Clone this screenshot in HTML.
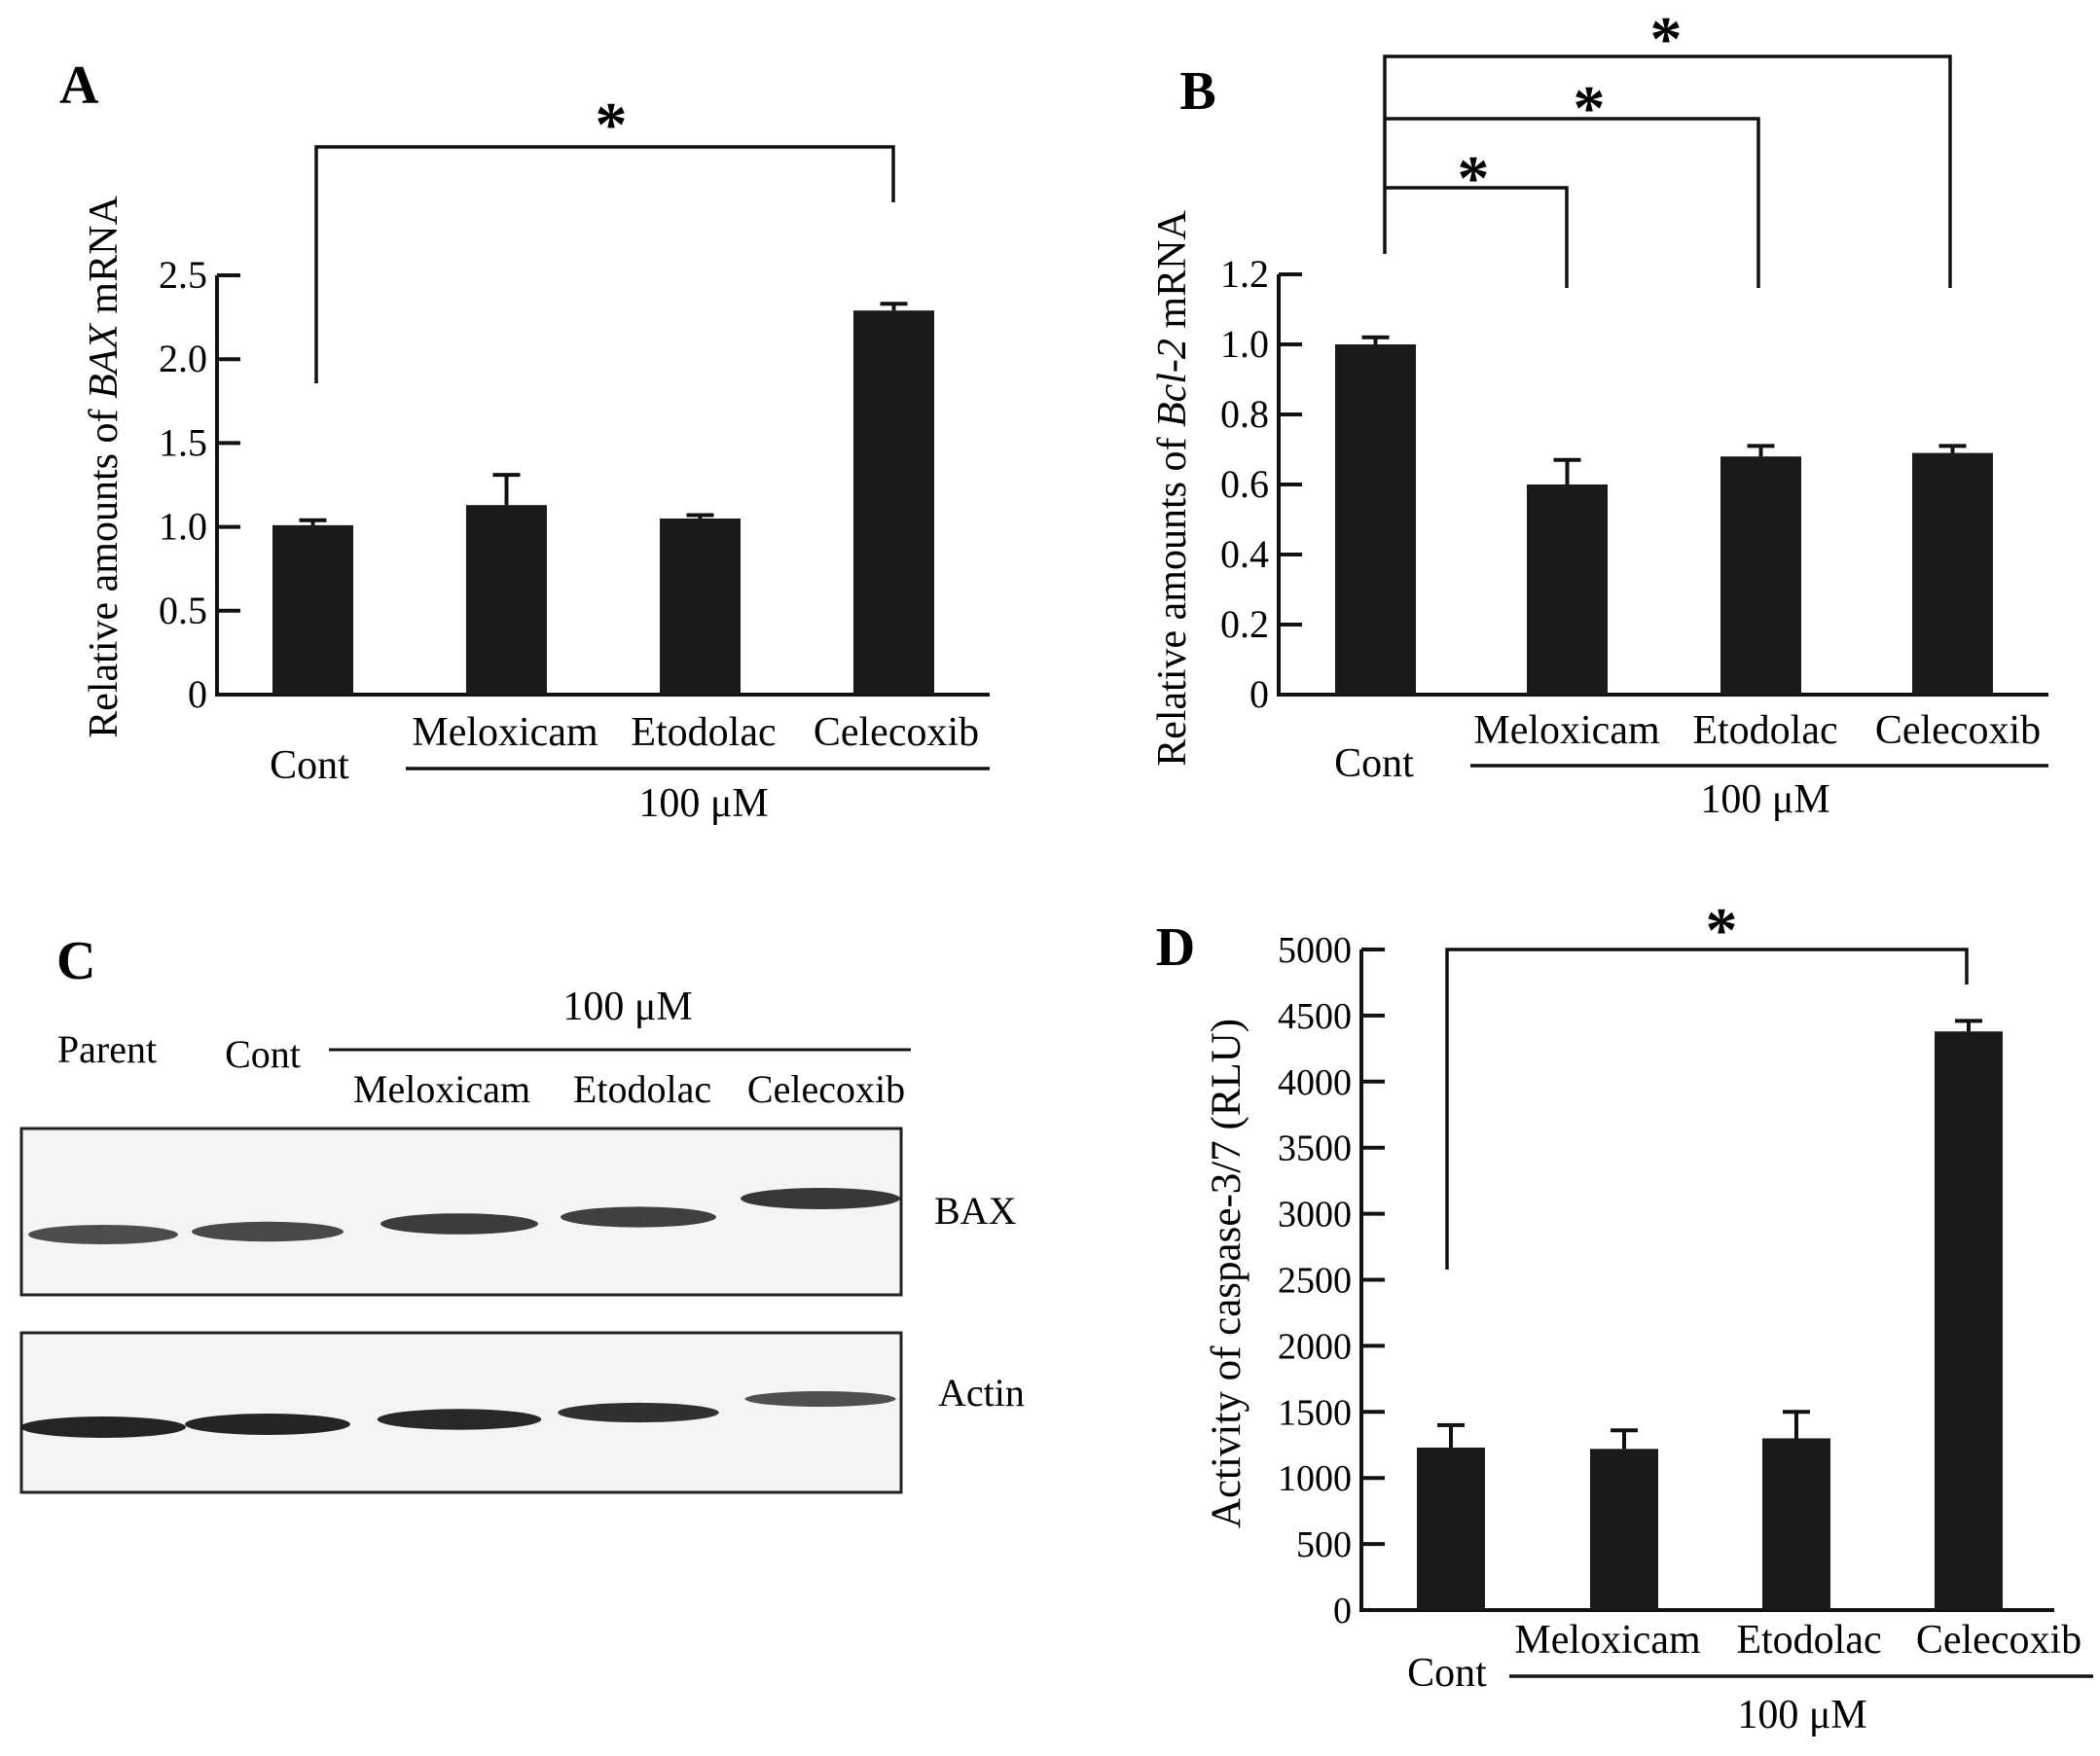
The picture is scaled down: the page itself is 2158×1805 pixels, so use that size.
<!DOCTYPE html>
<html><head><meta charset="utf-8"><style>
html,body{margin:0;padding:0;background:#fff}
svg{display:block;font-family:"Liberation Serif",serif}
text{font-family:"Liberation Serif",serif}
</style></head><body>
<svg id="s" width="2158" height="1805" viewBox="0 0 2158 1805" xmlns="http://www.w3.org/2000/svg">
<g id="gA"></g>
<g id="gB"></g>
<g id="gC">
<text x="58" y="1006" font-size="56" font-weight="bold">C</text>
<text x="645" y="1048" font-size="42" text-anchor="middle">100 μM</text>
<line x1="338" y1="1079" x2="936" y2="1079" stroke="#111" stroke-width="3"/>
<text x="110" y="1092" font-size="40" text-anchor="middle">Parent</text>
<text x="270" y="1097" font-size="40" text-anchor="middle">Cont</text>
<text x="454" y="1133" font-size="40" text-anchor="middle">Meloxicam</text>
<text x="660" y="1133" font-size="40" text-anchor="middle">Etodolac</text>
<text x="849" y="1133" font-size="40" text-anchor="middle">Celecoxib</text>
<rect x="22" y="1160" width="904" height="171" fill="#f4f4f4" stroke="#222" stroke-width="3"/>
<rect x="22" y="1370" width="904" height="164" fill="#f4f4f4" stroke="#222" stroke-width="3"/>
<text x="960" y="1258" font-size="40">BAX</text>
<text x="964" y="1445" font-size="40">Actin</text>
</g>
<g id="gD"></g>
</svg>
<script>
const NS="http://www.w3.org/2000/svg";
const catsA=["Cont","Meloxicam","Etodolac","Celecoxib"];
const valsA=[1.01,1.13,1.05,2.29];
const errA=[0.03,0.18,0.02,0.04];
const ticksA=[0,0.5,1.0,1.5,2.0,2.5];
const tickLabA=["0","0.5","1.0","1.5","2.0","2.5"];
const catsB=["Cont","Meloxicam","Etodolac","Celecoxib"];
const valsB=[1.0,0.60,0.68,0.69];
const errB=[0.02,0.07,0.03,0.02];
const ticksB=[0,0.2,0.4,0.6,0.8,1.0,1.2];
const tickLabB=["0","0.2","0.4","0.6","0.8","1.0","1.2"];
const catsD=["Cont","Meloxicam","Etodolac","Celecoxib"];
const valsD=[1230,1220,1300,4380];
const errD=[170,140,200,80];
const ticksD=[0,500,1000,1500,2000,2500,3000,3500,4000,4500,5000];
const tickLabD=["0","500","1000","1500","2000","2500","3000","3500","4000","4500","5000"];
const baxBand=[0.75,0.8,0.95,0.9,1.0];
const actinBand=[1.0,1.0,0.95,0.85,0.5];

function el(p,tag,a,txt){const e=document.createElementNS(NS,tag);for(const k in a)e.setAttribute(k,a[k]);if(txt!==undefined)e.textContent=txt;p.appendChild(e);return e;}

function chart(g,o){
  const y=v=>o.y0-(v-o.vmin)/(o.vmax-o.vmin)*(o.y0-o.y1);
  const ax=el(g,'path',{d:`M${o.ax} ${y(o.vmax)}V${o.y0}H${o.xend}`,fill:'none',stroke:'#111','stroke-width':4});
  
  
  o.ticks.forEach((t,i)=>{
    const l=el(g,'line',{x1:o.ax,x2:o.ax+24,y1:y(t),y2:y(t),stroke:'#111','stroke-width':4});
    
    
    const tx=el(g,'text',{x:o.ax-10,y:y(t)+13,'font-size':o.tfs,'text-anchor':'end'},o.tlab[i]);
    
    
  });
  o.vals.forEach((v,i)=>{
    const x=o.bx[i],cx=x+o.bw/2;
    const e=el(g,'path',{d:`M${cx} ${y(v)}V${y(v+o.err[i])}M${cx-14} ${y(v+o.err[i])}H${cx+14}`,stroke:'#111','stroke-width':4,fill:'none'});
    
    
    const r=el(g,'rect',{x:x,y:y(v),width:o.bw,height:o.y0-y(v),fill:'#1a1a1a'});
    
    
  });
}
function txt(g,x,yy,s,t,name,extra){const e=el(g,'text',Object.assign({x:x,y:yy,'font-size':s,'text-anchor':'middle'},extra||{}),t);return e;}
function path(g,d,name){const e=el(g,'path',{d:d,fill:'none',stroke:'#111','stroke-width':3.5});return e;}

// Panel A
const gA=document.getElementById('gA');
chart(gA,{ax:223,y0:714,y1:283,vmin:0,vmax:2.5,xend:1017,ticks:ticksA,tlab:tickLabA,tfs:40,vals:valsA,err:errA,cats:catsA,bx:[280,479,678,877],bw:83});
txt(gA,61,106,56,"A","panel-a-label",{'font-weight':'bold','text-anchor':'start'});
path(gA,"M325 394V151H918V208","significance-bracket");
txt(gA,628,150,66,"*","significance-star",{'font-weight':'bold'});
txt(gA,519,766,42,"Meloxicam","x-label-meloxicam");
txt(gA,723,766,42,"Etodolac","x-label-etodolac");
txt(gA,921,766,42,"Celecoxib","x-label-celecoxib");
txt(gA,318,800,42,"Cont","x-label-cont");
path(gA,"M417 790H1017","treatment-line");
txt(gA,723,839,42,"100 μM","concentration-label");
{const t=txt(gA,0,0,42,"","y-axis-title",{transform:"translate(120 480) rotate(-90)"});t.innerHTML='Relative amounts of <tspan font-style="italic">BAX</tspan> mRNA';}

// Panel B
const gB=document.getElementById('gB');
chart(gB,{ax:1314,y0:714,y1:282,vmin:0,vmax:1.2,xend:2105,ticks:ticksB,tlab:tickLabB,tfs:40,vals:valsB,err:errB,cats:catsB,bx:[1372,1569,1768,1965],bw:83});
txt(gB,1231,112,56,"B","panel-b-label",{'font-weight':'bold'});
path(gB,"M1423 261V58H2004V296M1423 122H1807V296M1423 193H1610V296","significance-brackets");
txt(gB,1712,62,66,"*","significance-star",{'font-weight':'bold'});
txt(gB,1633,133,66,"*","significance-star",{'font-weight':'bold'});
txt(gB,1514,205,66,"*","significance-star",{'font-weight':'bold'});
txt(gB,1610,764,42,"Meloxicam","x-label-meloxicam");
txt(gB,1814,764,42,"Etodolac","x-label-etodolac");
txt(gB,2012,764,42,"Celecoxib","x-label-celecoxib");
txt(gB,1412,798,42,"Cont","x-label-cont");
path(gB,"M1511 787H2105","treatment-line");
txt(gB,1814,835,42,"100 μM","concentration-label");
{const t=txt(gB,0,0,42,"","y-axis-title",{transform:"translate(1218 502) rotate(-90)"});t.innerHTML='Relative amounts of <tspan font-style="italic">Bcl-2</tspan> mRNA';}

// Panel D
const gD=document.getElementById('gD');
chart(gD,{ax:1399,y0:1655,y1:976,vmin:0,vmax:5000,xend:2111,ticks:ticksD,tlab:tickLabD,tfs:38,vals:valsD,err:errD,cats:catsD,bx:[1456,1634,1811,1988],bw:70});
txt(gD,1208,992,56,"D","panel-d-label",{'font-weight':'bold'});
path(gD,"M1487 1305V976H2021V1012","significance-bracket");
txt(gD,1769,978,66,"*","significance-star",{'font-weight':'bold'});
txt(gD,1652,1699,42,"Meloxicam","x-label-meloxicam");
txt(gD,1859,1699,42,"Etodolac","x-label-etodolac");
txt(gD,2054,1699,42,"Celecoxib","x-label-celecoxib");
txt(gD,1487,1733,42,"Cont","x-label-cont");
path(gD,"M1551 1723H2151","treatment-line");
txt(gD,1852,1776,42,"100 μM","concentration-label");
txt(gD,0,0,43,"Activity of caspase-3/7 (RLU)","y-axis-title",{transform:"translate(1274 1309) rotate(-90)"});

// Panel C bands
const gC=document.getElementById('gC');
const lanes=[106,275,472,656,843], baxY=[1269,1266,1258,1251,1232], actY=[1467,1464,1459,1452,1438];
baxBand.forEach((v,i)=>{const e=el(gC,'ellipse',{cx:lanes[i],cy:baxY[i],rx:62+v*20,ry:7+v*4,fill:'#222','fill-opacity':0.5+v*0.4});

});
actinBand.forEach((v,i)=>{const e=el(gC,'ellipse',{cx:lanes[i],cy:actY[i],rx:70+v*15,ry:5+v*6,fill:'#181818','fill-opacity':0.55+v*0.4});

});
</script>
</body></html>
